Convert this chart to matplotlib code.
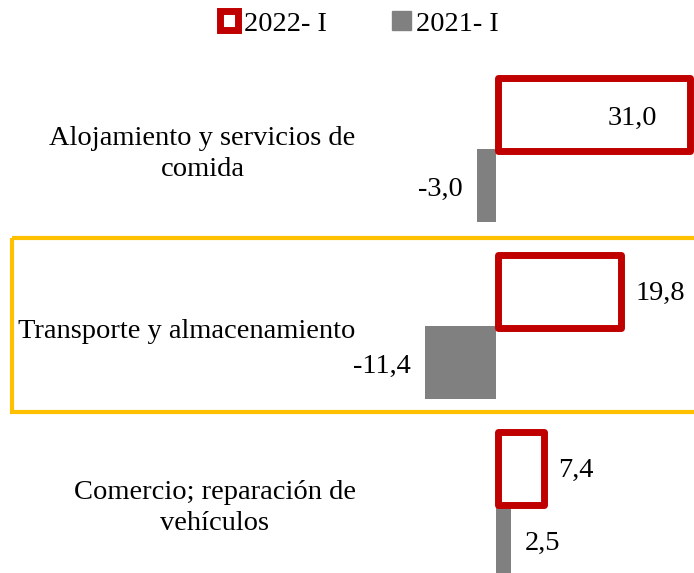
import matplotlib.pyplot as plt
from matplotlib.patches import Patch, Rectangle

categories = ['Alojamiento y servicios de\ncomida',
              'Transporte y almacenamiento',
              'Comercio; reparación de\nvehículos']
vals_2022 = [31.0, 19.8, 7.4]
vals_2021 = [-3.0, -11.4, 2.5]
series_names = ['2022- I', '2021- I']

RED = '#C00000'
GREY = '#808080'
GOLD = '#FFC000'
FS = 20.5

plt.rcParams['font.family'] = ['Liberation Serif', 'DejaVu Serif']


def fmt(v):
    return f'{v:.1f}'.replace('.', ',')


fig = plt.figure(figsize=(6.94, 5.73), dpi=100)
ax = fig.add_axes([0, 0, 1, 1])
ax.set_xlim(-80, 32)
ax.set_ylim(2.39, -0.847)
ax.axis('off')

ys = list(range(len(categories)))
h = 0.41
ax.barh([y + 0.2 for y in ys], vals_2021, height=h, color=GREY, zorder=2)
bars = ax.barh([y - 0.2 for y in ys], vals_2022, height=h, left=0.4,
               facecolor='white', edgecolor=RED, linewidth=5, zorder=3)
for b in bars:
    b.set_joinstyle('round')

for y, v in zip(ys, vals_2022):
    if v > 25:
        ax.annotate(fmt(v), (v, y - 0.2), xytext=(-22, -3), textcoords='offset points',
                    ha='right', va='center', fontsize=FS)
    else:
        ax.annotate(fmt(v), (v, y - 0.2), xytext=(12, -1), textcoords='offset points',
                    ha='left', va='center', fontsize=FS)
for y, v in zip(ys, vals_2021):
    off = 10 if v > 0 else -10
    ax.annotate(fmt(v), (v, y + 0.2), xytext=(off, -3), textcoords='offset points',
                ha='left' if v > 0 else 'right', va='center', fontsize=FS)

for y, lab in zip(ys, categories):
    ax.annotate(lab, (-22.6, y), xytext=(0, -3), textcoords='offset points',
                ha='right', va='center', multialignment='center', fontsize=FS,
                linespacing=1.35)

# highlight box around the middle category
ax.add_patch(Rectangle((-78, 0.497), 112, 0.985, fill=False, edgecolor=GOLD,
                       linewidth=3, clip_on=False, zorder=1))

handles = [Patch(facecolor='white', edgecolor=RED, linewidth=5),
           Patch(facecolor=GREY, edgecolor=GREY)]
fig.legend(handles, series_names, loc='center', bbox_to_anchor=(0.518, 0.958), ncol=2,
           frameon=False, fontsize=FS, handlelength=0.65, handleheight=0.65,
           handletextpad=0.2, columnspacing=2.3)

fig.savefig('out.png', dpi=100)
